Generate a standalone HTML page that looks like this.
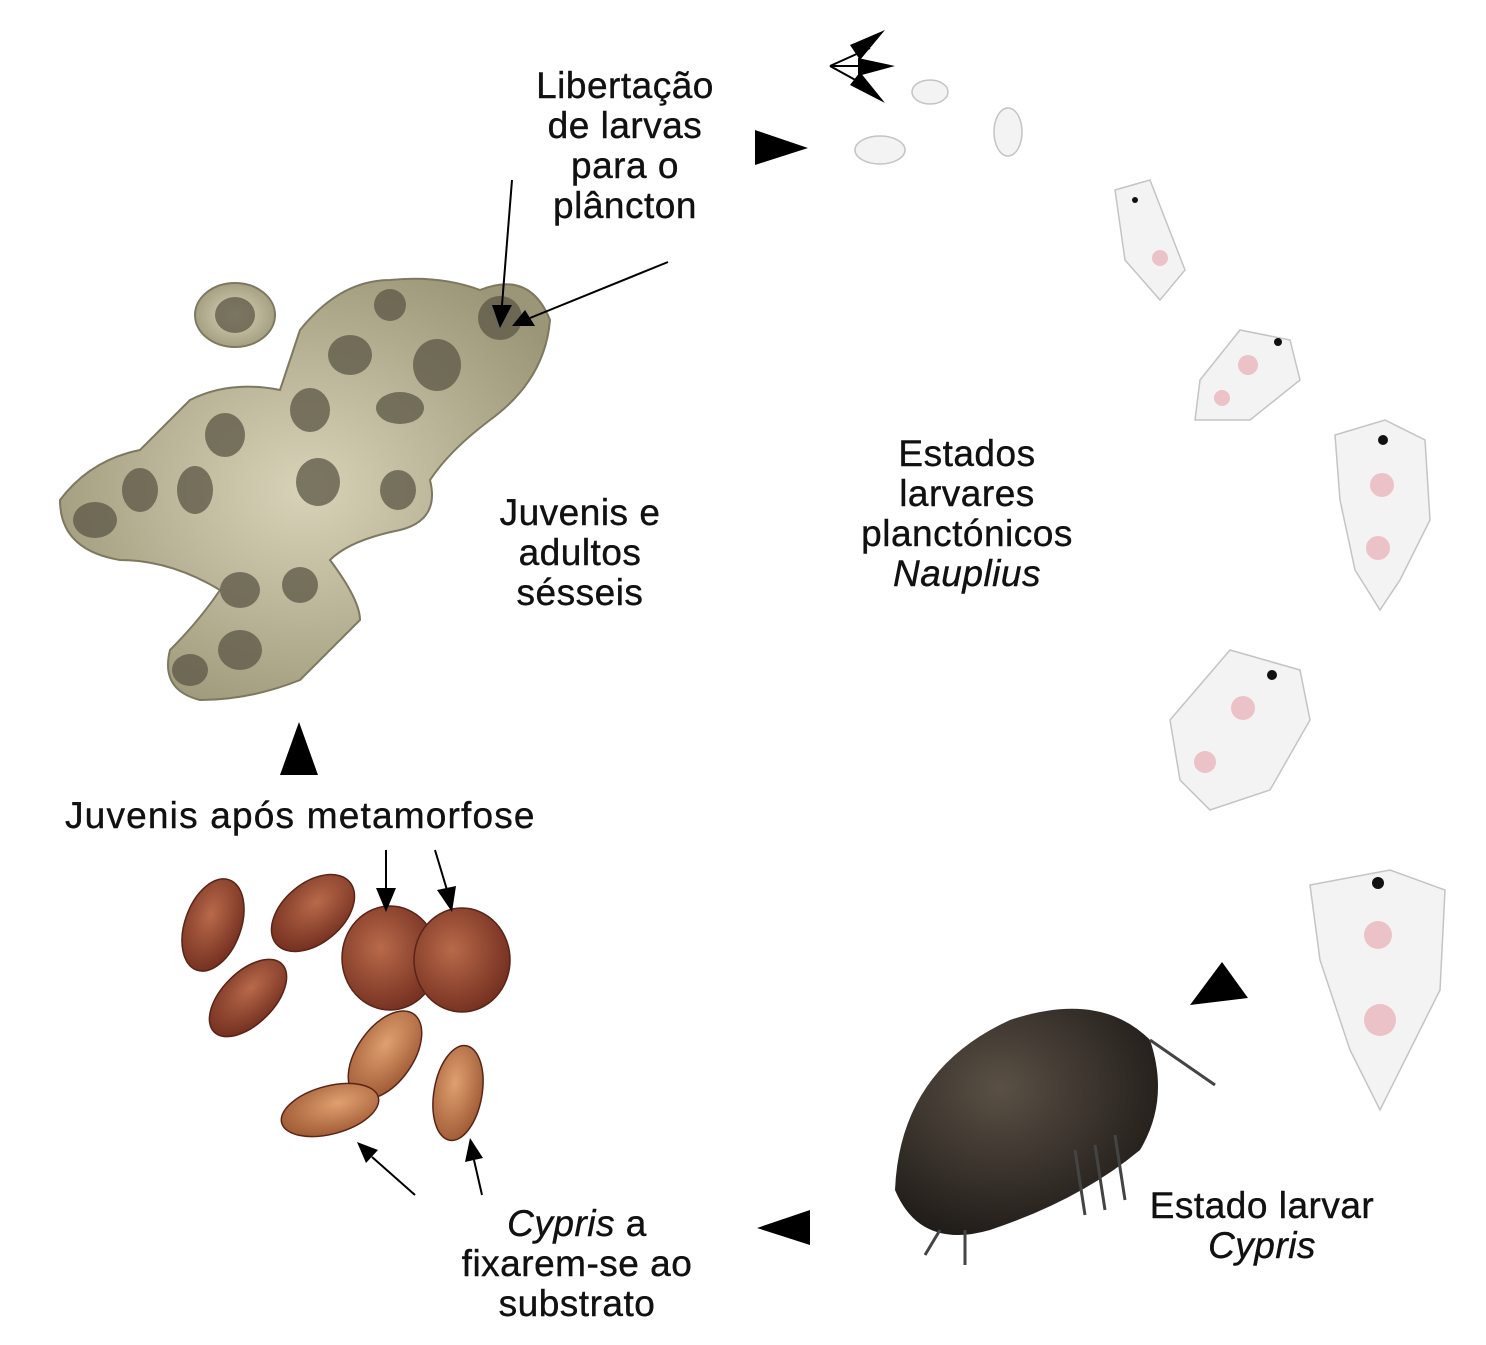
<!DOCTYPE html>
<html><head><meta charset="utf-8"><style>
html,body{margin:0;padding:0;background:#fff}
svg{display:block}
text{font-family:"Liberation Sans",sans-serif;font-size:37px;fill:#111;letter-spacing:0.5px;stroke:#111;stroke-width:0.4px}
</style></head><body>
<svg width="1486" height="1345" viewBox="0 0 1486 1345" xmlns="http://www.w3.org/2000/svg">
<defs>
<radialGradient id="bar" cx="50%" cy="50%" r="60%"><stop offset="0" stop-color="#d8d3b8"/><stop offset="1" stop-color="#9c9678"/></radialGradient>
<radialGradient id="seed" cx="40%" cy="40%" r="70%"><stop offset="0" stop-color="#b86a4a"/><stop offset="1" stop-color="#6e2a1c"/></radialGradient>
<radialGradient id="seed2" cx="40%" cy="40%" r="70%"><stop offset="0" stop-color="#e0a070"/><stop offset="1" stop-color="#9a5530"/></radialGradient>
<radialGradient id="cyp" cx="40%" cy="35%" r="70%"><stop offset="0" stop-color="#5a5045"/><stop offset="1" stop-color="#1e1a17"/></radialGradient>
</defs>

<g fill="url(#bar)" stroke="#7d7860" stroke-width="2">
<path d="M60 500 Q90 460 140 450 L190 400 Q230 380 280 390 L300 330 Q340 280 390 280 Q440 275 480 290 Q530 270 550 320 Q545 380 490 420 Q450 450 430 480 Q440 520 400 530 Q350 540 330 560 Q360 600 360 620 Q330 650 300 680 Q250 700 200 700 Q160 690 170 650 Q200 620 220 590 Q170 560 120 560 Q60 550 60 500Z"/>
<ellipse cx="235" cy="315" rx="40" ry="32"/>
</g>
<g fill="#5c5745" opacity="0.75">
<ellipse cx="95" cy="520" rx="22" ry="18"/><ellipse cx="140" cy="490" rx="18" ry="22"/>
<ellipse cx="195" cy="490" rx="18" ry="24"/><ellipse cx="225" cy="435" rx="20" ry="22"/>
<ellipse cx="235" cy="315" rx="20" ry="18"/><ellipse cx="310" cy="410" rx="20" ry="22"/>
<ellipse cx="350" cy="355" rx="22" ry="20"/><ellipse cx="390" cy="305" rx="16" ry="16"/>
<ellipse cx="437" cy="365" rx="24" ry="26"/><ellipse cx="400" cy="408" rx="24" ry="16"/>
<ellipse cx="500" cy="318" rx="22" ry="22"/><ellipse cx="318" cy="482" rx="22" ry="24"/>
<ellipse cx="398" cy="490" rx="18" ry="20"/><ellipse cx="240" cy="590" rx="20" ry="18"/>
<ellipse cx="300" cy="585" rx="18" ry="18"/><ellipse cx="240" cy="650" rx="22" ry="20"/>
<ellipse cx="190" cy="670" rx="18" ry="16"/>
</g>

<g stroke="#5a2418" stroke-width="1.5">
<ellipse cx="213" cy="925" rx="28" ry="48" transform="rotate(20 213 925)" fill="url(#seed)"/>
<ellipse cx="313" cy="913" rx="30" ry="48" transform="rotate(50 313 913)" fill="url(#seed)"/>
<ellipse cx="248" cy="998" rx="26" ry="48" transform="rotate(45 248 998)" fill="url(#seed)"/>
<ellipse cx="390" cy="958" rx="48" ry="52" fill="url(#seed)"/>
<ellipse cx="462" cy="960" rx="48" ry="52" fill="url(#seed)"/>
<ellipse cx="385" cy="1055" rx="28" ry="50" transform="rotate(35 385 1055)" fill="url(#seed2)"/>
<ellipse cx="330" cy="1110" rx="24" ry="50" transform="rotate(75 330 1110)" fill="url(#seed2)"/>
<ellipse cx="458" cy="1093" rx="24" ry="48" transform="rotate(10 458 1093)" fill="url(#seed2)"/>
</g>

<path d="M895 1190 Q900 1070 1010 1020 Q1100 990 1150 1040 Q1170 1100 1140 1150 Q1080 1200 990 1230 Q920 1250 895 1190Z" fill="url(#cyp)"/>
<g stroke="#444" stroke-width="3"><line x1="1075" y1="1150" x2="1085" y2="1215"/><line x1="1095" y1="1145" x2="1105" y2="1210"/><line x1="1115" y1="1135" x2="1125" y2="1200"/><line x1="940" y1="1230" x2="925" y2="1255"/><line x1="965" y1="1230" x2="965" y2="1265"/><line x1="1150" y1="1040" x2="1215" y2="1085"/></g>

<g fill="#f4f3f3" stroke="#c4c4c4" stroke-width="1.5">
<ellipse cx="930" cy="92" rx="18" ry="12"/><ellipse cx="880" cy="150" rx="25" ry="14"/><ellipse cx="1008" cy="132" rx="14" ry="24"/>
<path d="M1115 190 L1150 180 L1185 270 L1160 300 L1125 260Z"/>
<path d="M1200 380 L1240 330 L1290 340 L1300 380 L1250 420 L1195 420Z"/>
<path d="M1335 435 L1385 420 L1425 440 L1430 520 L1400 580 L1380 610 L1355 570 L1340 500Z"/>
<path d="M1170 720 L1230 650 L1300 670 L1310 720 L1270 790 L1210 810 L1180 780Z"/>
<path d="M1310 885 L1390 870 L1445 890 L1440 990 L1405 1060 L1380 1110 L1350 1050 L1320 960Z"/>
</g>
<g fill="#ebc2c8">
<circle cx="1160" cy="258" r="8"/><circle cx="1248" cy="365" r="10"/><circle cx="1222" cy="398" r="8"/>
<circle cx="1382" cy="485" r="12"/><circle cx="1378" cy="548" r="12"/>
<circle cx="1243" cy="708" r="12"/><circle cx="1205" cy="762" r="11"/>
<circle cx="1378" cy="935" r="14"/><circle cx="1380" cy="1020" r="16"/>
</g>
<g fill="#111"><circle cx="1135" cy="200" r="3"/><circle cx="1278" cy="342" r="4"/><circle cx="1383" cy="440" r="5"/><circle cx="1272" cy="675" r="5"/><circle cx="1378" cy="883" r="6"/></g>

<g fill="#000">
<polygon points="755,130 808,148 755,165"/>
<polygon points="810,1210 757,1228 810,1245"/>
<polygon points="280,775 299,722 318,775"/>
<polygon points="1190,1005 1222,962 1248,998"/>
<polygon points="850,45 885,30 860,60"/><polygon points="858,58 895,66 858,76"/><polygon points="850,85 885,103 860,72"/>
</g>
<g stroke="#000" stroke-width="2" fill="none">
<line x1="830" y1="66" x2="870" y2="48"/><line x1="830" y1="66" x2="870" y2="66"/><line x1="830" y1="66" x2="870" y2="88"/>
<line x1="512" y1="180" x2="502" y2="305"/><line x1="668" y1="262" x2="530" y2="318"/>
<line x1="386" y1="850" x2="386" y2="890"/><line x1="435" y1="850" x2="447" y2="890"/>
<line x1="415" y1="1195" x2="372" y2="1157"/><line x1="482" y1="1195" x2="474" y2="1160"/>
</g>
<g fill="#000">
<polygon points="492,305 512,305 500,328"/><polygon points="525,310 535,326 512,326"/>
<polygon points="376,888 396,888 386,912"/><polygon points="437,890 456,886 452,912"/>
<polygon points="378,1150 366,1163 357,1142"/><polygon points="465,1162 483,1158 470,1138"/>
</g>

<g text-anchor="middle">
<text x="625" y="98">Libertação</text><text x="625" y="138">de larvas</text><text x="625" y="178">para o</text><text x="625" y="218">plâncton</text>
<text x="580" y="525">Juvenis e</text><text x="580" y="565">adultos</text><text x="580" y="605">sésseis</text>
<text x="967" y="466">Estados</text><text x="967" y="506">larvares</text><text x="967" y="546">planctónicos</text><text x="967" y="586" font-style="italic">Nauplius</text>
<text x="300" y="828" textLength="470" lengthAdjust="spacing">Juvenis após metamorfose</text>
<text x="577" y="1236"><tspan font-style="italic">Cypris</tspan> a</text><text x="577" y="1276">fixarem-se ao</text><text x="577" y="1316">substrato</text>
<text x="1262" y="1218">Estado larvar</text><text x="1262" y="1258" font-style="italic">Cypris</text>
</g>
</svg>
</body></html>
